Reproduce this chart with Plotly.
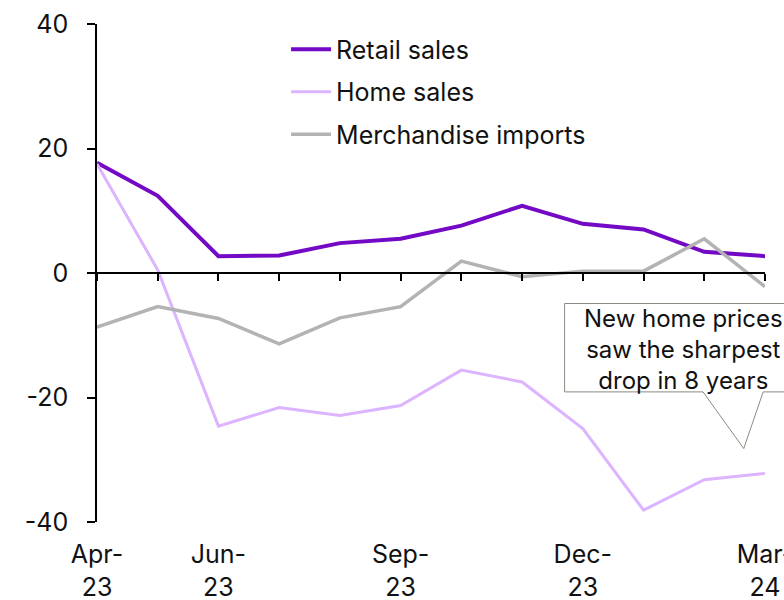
import plotly.graph_objects as go

# Monthly year-on-year growth, %
months = ["Apr-23", "May-23", "Jun-23", "Jul-23", "Aug-23", "Sep-23",
          "Oct-23", "Nov-23", "Dec-23", "Jan-24", "Feb-24", "Mar-24"]
retail_sales = [17.7, 12.4, 2.7, 2.8, 4.8, 5.5, 7.6, 10.8, 7.9, 7.0, 3.4, 2.7]
home_sales = [17.5, 0.5, -24.6, -21.6, -22.9, -21.3, -15.6, -17.5, -25.0, -38.1, -33.2, -32.2]
merch_imports = [-8.7, -5.4, -7.3, -11.4, -7.2, -5.4, 1.9, -0.6, 0.3, 0.3, 5.5, -2.2]

tick_months = ["Apr-23", "Jun-23", "Sep-23", "Dec-23", "Mar-24"]
tick_text = ["Apr-<br>23", "Jun-<br>23", "Sep-<br>23", "Dec-<br>23", "Mar-<br>24"]
y_ticks = [-40, -20, 0, 20, 40]
y_tick_text = ["-40", "-20", "0", "20", "40"]

FONT = "Inter"
FS = 25
Y_MIN, Y_MAX = -40, 40
N = len(months) - 1

fig = go.Figure()

series = [
    ("Retail sales", retail_sales, "#7309c4", 4),
    ("Home sales", home_sales, "#dcb4ff", 3),
    ("Merchandise imports", merch_imports, "#b3b3b3", 3.5),
]
for name, vals, color, width in series:
    fig.add_trace(go.Scatter(
        x=months, y=vals, name=name, mode="lines",
        line=dict(color=color, width=width),
        legendgroup=name,
    ))

# helper trace so the zero-line axis (with its tick marks) is rendered
fig.add_trace(go.Scatter(
    x=list(range(len(months))), y=[None] * len(months),
    xaxis="x2", showlegend=False, hoverinfo="skip",
))

# callout box with a downward pointer, positioned in data units
def px_(xi):
    return xi / N

def py_(yv):
    return (yv - Y_MIN) / (Y_MAX - Y_MIN)

box_l, box_r, box_t, box_b = 7.7, 12.0, -4.9, -19.1
ptr_a, ptr_b, tip_x, tip_y = 9.98, 10.97, 10.65, -28.2
path = (
    f"M{px_(box_l)},{py_(box_t)} L{px_(box_r)},{py_(box_t)} "
    f"L{px_(box_r)},{py_(box_b)} L{px_(ptr_b)},{py_(box_b)} "
    f"L{px_(tip_x)},{py_(tip_y)} L{px_(ptr_a)},{py_(box_b)} "
    f"L{px_(box_l)},{py_(box_b)} Z"
)
fig.add_shape(type="path", path=path, xref="paper", yref="paper",
              line=dict(color="#8a8a82", width=1), fillcolor="white",
              layer="above")
fig.add_annotation(
    text="New home prices<br>saw the sharpest<br>drop in 8 years",
    xref="paper", yref="paper", x=px_(9.65), y=py_(-12.3),
    xanchor="center", yanchor="middle", align="center", showarrow=False,
    font=dict(family=FONT, size=24, color="#111111"),
)

fig.update_layout(
    width=784, height=600,
    margin=dict(l=97, r=19, t=24, b=78),
    paper_bgcolor="white", plot_bgcolor="white",
    font=dict(family=FONT, size=FS, color="#111111"),
    showlegend=True,
    legend=dict(
        x=0.283, y=0.995, xanchor="left", yanchor="top",
        bgcolor="rgba(0,0,0,0)", font=dict(family=FONT, size=FS, color="#111111"),
        tracegroupgap=7, itemwidth=40,
    ),
    xaxis=dict(
        type="category", categoryorder="array", categoryarray=months,
        range=[0, N], showline=False, showgrid=False, zeroline=False,
        ticks="", tickvals=tick_months, ticktext=tick_text,
        tickfont=dict(family=FONT, size=FS, color="#111111"),
        ticklabelstandoff=15, automargin=False,
    ),
    xaxis2=dict(
        overlaying="x", anchor="free", position=0.5, type="linear",
        range=[0, N], tick0=0, dtick=1, showticklabels=False,
        showline=True, linecolor="black", linewidth=1.5,
        ticks="outside", ticklen=7, tickwidth=1.5, tickcolor="black",
        showgrid=False, zeroline=False, automargin=False,
    ),
    yaxis=dict(
        range=[Y_MIN, Y_MAX], tickvals=y_ticks, ticktext=y_tick_text,
        showline=True, linecolor="black", linewidth=1.5,
        ticks="outside", ticklen=8, tickwidth=1.5, tickcolor="black",
        showgrid=False, zeroline=False, automargin=False,
        tickfont=dict(family=FONT, size=FS, color="#111111"),
        ticklabelstandoff=14,
    ),
)

fig.write_html("out.html")
